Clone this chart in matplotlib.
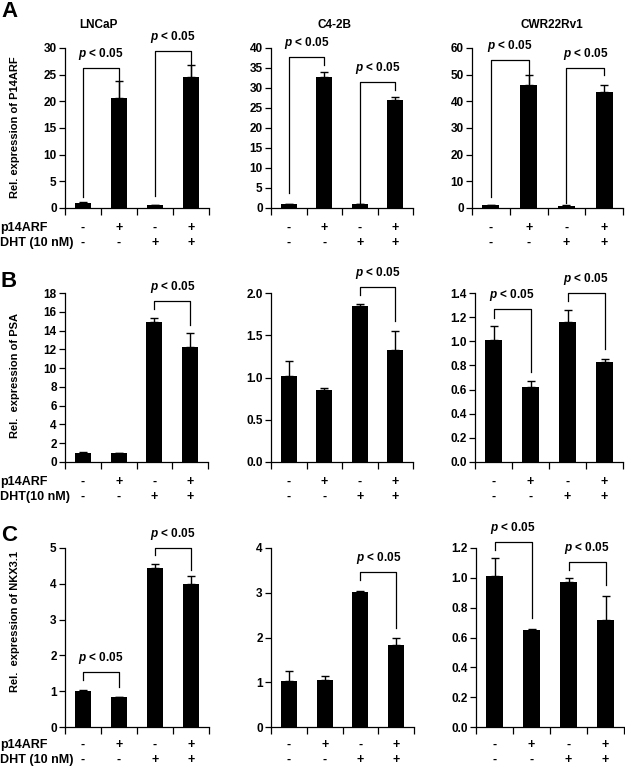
import numpy as np
import matplotlib
matplotlib.use('Agg')
import matplotlib.pyplot as plt
import matplotlib.transforms as mtransforms

plt.rcParams['font.family'] = 'Liberation Sans'
plt.rcParams['font.weight'] = 'bold'
plt.rcParams['mathtext.fontset'] = 'custom'
plt.rcParams['mathtext.it'] = 'Liberation Sans:bold:italic'
plt.rcParams['mathtext.rm'] = 'Liberation Sans:bold'

W, H = 625, 768

cell_lines = ["LNCaP", "C4-2B", "CWR22Rv1"]
p14arf = ["-", "+", "-", "+"]
dht = ["-", "-", "+", "+"]

# panel A: P14ARF
a_means = [[1.0, 20.7, 0.6, 24.6], [1.0, 32.7, 0.9, 27.0], [1.0, 46.3, 0.9, 43.5]]
a_errs = [[0.1, 3.2, 0.05, 2.2], [0.1, 1.3, 0.05, 0.8], [0.1, 3.5, 0.05, 2.5]]
# panel B: PSA
b_means = [[1.0, 0.95, 14.9, 12.3], [1.02, 0.85, 1.85, 1.33], [1.01, 0.62, 1.16, 0.83]]
b_errs = [[0.1, 0.05, 0.4, 1.4], [0.17, 0.03, 0.02, 0.22], [0.12, 0.05, 0.10, 0.02]]
# panel C: NKX3.1
c_means = [[1.0, 0.84, 4.45, 4.0], [1.02, 1.05, 3.02, 1.83], [1.01, 0.65, 0.97, 0.72]]
c_errs = [[0.03, 0.01, 0.10, 0.23], [0.23, 0.09, 0.02, 0.15], [0.12, 0.005, 0.03, 0.16]]

# brackets: (left bar, right bar, top, left leg end, right leg end)
a_brackets = [[(0, 1, 26.2, 2.1, 20.9), (2, 3, 29.5, 2.25, 24.6)],
              [(0, 1, 37.7, 3.7, 35.7), (2, 3, 31.6, 1.2, 29.5)],
              [(0, 1, 55.5, 4.2, 46.8), (2, 3, 52.4, 1.75, 49.9)]]
b_brackets = [[(2, 3, 17.2, 16.3, 14.6)],
              [(2, 3, 2.07, 1.98, 1.67)],
              [(0, 1, 1.265, 1.195, 0.748), (2, 3, 1.40, 1.33, 0.934)]]
c_brackets = [[(0, 1, 1.53, 1.31, 1.13), (2, 3, 4.99, 4.80, 4.39)],
              [(2, 3, 3.47, 3.28, 2.21)],
              [(0, 1, 1.238, 1.187, 0.729), (2, 3, 1.108, 1.052, 0.952)]]

a_ticks = [np.arange(0, 31, 5), np.arange(0, 41, 5), np.arange(0, 61, 10)]
b_ticks = [np.arange(0, 19, 2), np.arange(0, 2.01, 0.5), np.arange(0, 1.41, 0.2)]
c_ticks = [np.arange(0, 6, 1), np.arange(0, 5, 1), np.arange(0, 1.21, 0.2)]
a_fmt = ["{:.0f}", "{:.0f}", "{:.0f}"]
b_fmt = ["{:.0f}", "{:.1f}", "{:.1f}"]
c_fmt = ["{:.0f}", "{:.0f}", "{:.1f}"]

fig = plt.figure(figsize=(W / 100, H / 100), dpi=100)
fs = 8.5


def ax_at(l, r, top, bottom):
    return fig.add_axes([l / W, 1 - bottom / H, (r - l) / W, (bottom - top) / H])


def draw(ax, means, errs, brackets, ticks, fmt):
    x = np.arange(len(means))
    ax.bar(x, means, width=0.45, color='black', zorder=2)
    ax.errorbar(x, means, yerr=[np.zeros(len(errs)), errs], fmt='none',
                ecolor='black', elinewidth=1, capsize=3.2, capthick=1, zorder=3)
    ax.set_xlim(-0.5, len(means) - 0.5)
    ax.set_ylim(ticks[0], ticks[-1])
    ax.set_yticks(ticks)
    ax.set_yticklabels([fmt.format(t) for t in ticks], fontsize=fs, fontweight='bold')
    ax.set_xticks(np.arange(len(means) + 1) - 0.5)
    ax.set_xticklabels([])
    ax.tick_params(axis='y', direction='out', length=4, width=0.9, pad=2)
    ax.tick_params(axis='x', direction='out', length=5, width=0.9)
    for s in ['top', 'right']:
        ax.spines[s].set_visible(False)
    for s in ['left', 'bottom']:
        ax.spines[s].set_linewidth(0.9)
    for i, j, top, lb, rb in brackets:
        ax.plot([x[i], x[i], x[j], x[j]], [lb, top, top, rb], color='black',
                lw=0.9, clip_on=False, zorder=4)
        ax.annotate(r"$p$ < 0.05", xy=((x[i] + x[j]) / 2, top), xytext=(0, 10),
                    textcoords='offset points', ha='center', va='center',
                    fontsize=8.5, fontweight='bold', annotation_clip=False)


def sign_rows(ax, y1, y2):
    tr = mtransforms.blended_transform_factory(ax.transData, fig.transFigure)
    for k in range(4):
        ax.text(k, 1 - y1 / H, p14arf[k], transform=tr, ha='center', va='center',
                fontsize=9, fontweight='bold')
        ax.text(k, 1 - y2 / H, dht[k], transform=tr, ha='center', va='center',
                fontsize=9, fontweight='bold')


rows = [
    (48, 208, [(65, 209), (271, 413), (472, 623)], a_means, a_errs, a_brackets, a_ticks, a_fmt,
     (228, 243), "DHT (10 nM)", "Rel. expression of P14ARF", 127, "A", 17),
    (293, 462, [(65, 208), (271, 413), (475, 623)], b_means, b_errs, b_brackets, b_ticks, b_fmt,
     (482, 497), "DHT(10 nM)", "Rel.  expression of PSA", 375, "B", 287),
    (548, 727, [(65, 209), (271, 414), (476, 624)], c_means, c_errs, c_brackets, c_ticks, c_fmt,
     (745, 760), "DHT (10 nM)", "Rel.  expression of NKX3.1", 622, "C", 541),
]

for top, bottom, cols, means, errs, brs, ticks, fmts, (y1, y2), dht_lab, ylab, ylab_y, letter, let_y in rows:
    for c, (l, r) in enumerate(cols):
        ax = ax_at(l, r, top, bottom)
        draw(ax, means[c], errs[c], brs[c], ticks[c], fmts[c])
        sign_rows(ax, y1, y2)
    fig.text(0.0, 1 - y1 / H, "p14ARF", ha='left', va='center', fontsize=9, fontweight='bold')
    fig.text(0.0, 1 - y2 / H, dht_lab, ha='left', va='center', fontsize=9, fontweight='bold')
    fig.text(15 / W, 1 - ylab_y / H, ylab, rotation=90, ha='center', va='center',
             fontsize=8, fontweight='bold')
    fig.text(1 / W, 1 - let_y / H, letter, ha='left', va='baseline', fontsize=16, fontweight='bold')

for name, xc in zip(cell_lines, [98, 335, 552]):
    fig.text(xc / W, 1 - 25 / H, name, ha='center', va='center', fontsize=8.5, fontweight='bold')

fig.savefig('out.png', dpi=100)
